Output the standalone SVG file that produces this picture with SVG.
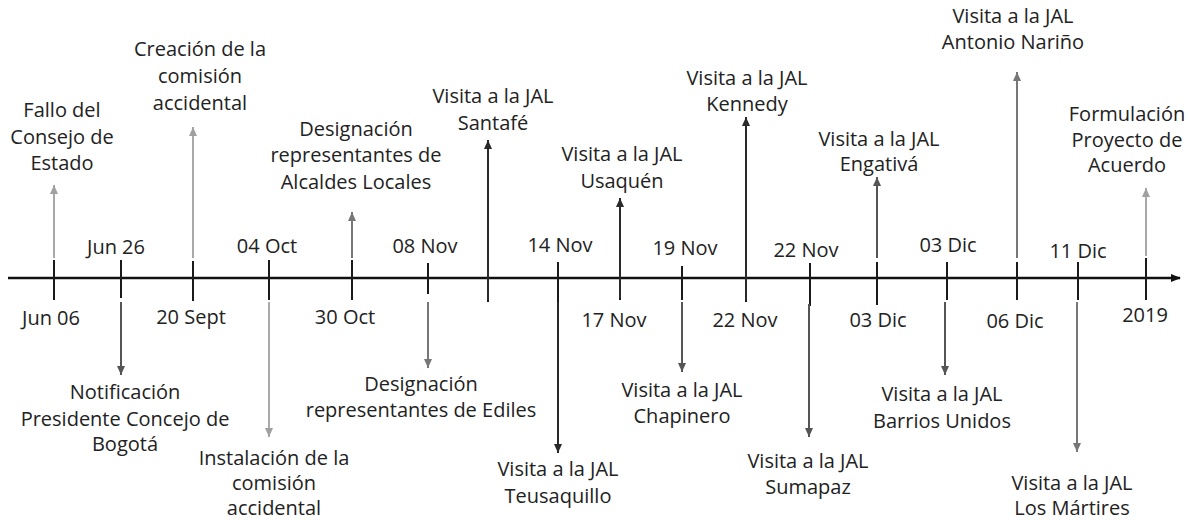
<svg xmlns="http://www.w3.org/2000/svg" width="1188" height="520" viewBox="0 0 1188 520">
<style>
text{font-family:"Open Sans","Noto Sans","DejaVu Sans",sans-serif;font-size:20px;fill:#222;text-anchor:middle}
.axis{stroke:#111;stroke-width:2.5;fill:none}
.tick{stroke:#1a1a1a;stroke-width:2;fill:none}
.c1{stroke:#2a2a2a;stroke-width:2;fill:none;marker-end:url(#m1)}
.c2{stroke:#555;stroke-width:2;fill:none;marker-end:url(#m2)}
.c3{stroke:#777;stroke-width:2;fill:none;marker-end:url(#m3)}
.c4{stroke:#a0a0a0;stroke-width:1.8;fill:none;marker-end:url(#m4)}
</style>
<defs>
<marker id="m0" viewBox="0 0 10 8" refX="9" refY="4" markerWidth="10" markerHeight="8" markerUnits="userSpaceOnUse" orient="auto"><path d="M0,0 L10,4 L0,8 z" fill="#111"/></marker>
<marker id="m1" viewBox="0 0 9 8" refX="9" refY="4" markerWidth="9" markerHeight="8" markerUnits="userSpaceOnUse" orient="auto"><path d="M0,0 L9,4 L0,8 z" fill="#2a2a2a"/></marker>
<marker id="m2" viewBox="0 0 9 8" refX="9" refY="4" markerWidth="9" markerHeight="8" markerUnits="userSpaceOnUse" orient="auto"><path d="M0,0 L9,4 L0,8 z" fill="#555"/></marker>
<marker id="m3" viewBox="0 0 9 8" refX="9" refY="4" markerWidth="9" markerHeight="8" markerUnits="userSpaceOnUse" orient="auto"><path d="M0,0 L9,4 L0,8 z" fill="#777"/></marker>
<marker id="m4" viewBox="0 0 9 8" refX="9" refY="4" markerWidth="9" markerHeight="8" markerUnits="userSpaceOnUse" orient="auto"><path d="M0,0 L9,4 L0,8 z" fill="#a0a0a0"/></marker>
</defs>
<rect width="1188" height="520" fill="#fff"/>
<g id="timeline">
<line class="axis" x1="8" y1="278" x2="1180" y2="278" marker-end="url(#m0)"/>
<path class="tick" d="M54,260V300 M121,260V298 M193,261V301 M269,260V300 M352,260V300 M428,263V294 M488,262V302 M558,262V302 M620,262V300 M682,266V300 M746,262V302 M810,263V306 M877,262V305 M947,262V300 M1017,262V300 M1078,262V300 M1146,258V300"/>
</g>
<g id="connectors">
<line class="c4" x1="54" y1="258" x2="54" y2="185"/>
<line class="c2" x1="121" y1="302" x2="121" y2="375"/>
<line class="c4" x1="193" y1="258" x2="193" y2="127"/>
<line class="c4" x1="269" y1="302" x2="269" y2="437"/>
<line class="c3" x1="352" y1="258" x2="352" y2="212"/>
<line class="c3" x1="428" y1="302" x2="428" y2="368"/>
<line class="c1" x1="488" y1="300" x2="488" y2="140"/>
<line class="c1" x1="558" y1="302" x2="558" y2="453"/>
<line class="c1" x1="620" y1="298" x2="620" y2="198"/>
<line class="c2" x1="682" y1="302" x2="682" y2="372"/>
<line class="c1" x1="746" y1="300" x2="746" y2="117"/>
<line class="c2" x1="809" y1="304" x2="809" y2="437"/>
<line class="c2" x1="877" y1="258" x2="877" y2="177"/>
<line class="c2" x1="945" y1="302" x2="945" y2="375"/>
<line class="c3" x1="1017" y1="258" x2="1017" y2="72"/>
<line class="c3" x1="1077" y1="302" x2="1077" y2="452"/>
<line class="c4" x1="1146" y1="256" x2="1146" y2="188"/>
</g>
<g id="e01"><text x="62" y="117">Fallo del<tspan x="62" y="144">Consejo de</tspan><tspan x="62" y="170">Estado</tspan></text><text x="51" y="325">Jun 06</text></g>
<g id="e02"><text x="125" y="399">Notificación<tspan x="125" y="426">Presidente Concejo de</tspan><tspan x="125" y="451">Bogotá</tspan></text><text x="116" y="254">Jun 26</text></g>
<g id="e03"><text x="200" y="56">Creación de la<tspan x="200" y="83">comisión</tspan><tspan x="200" y="110">accidental</tspan></text><text x="191" y="324">20 Sept</text></g>
<g id="e04"><text x="274" y="465">Instalación de la<tspan x="274" y="490">comisión</tspan><tspan x="274" y="515">accidental</tspan></text><text x="267" y="253">04 Oct</text></g>
<g id="e05"><text x="356" y="136">Designación<tspan x="356" y="162">representantes de</tspan><tspan x="356" y="189">Alcaldes Locales</tspan></text><text x="345" y="324">30 Oct</text></g>
<g id="e06"><text x="421" y="391">Designación<tspan x="421" y="417">representantes de Ediles</tspan></text><text x="425" y="253">08 Nov</text></g>
<g id="e07"><text x="493" y="103">Visita a la JAL<tspan x="493" y="130">Santafé</tspan></text></g>
<g id="e08"><text x="558" y="476">Visita a la JAL<tspan x="558" y="503">Teusaquillo</tspan></text><text x="560" y="252">14 Nov</text></g>
<g id="e09"><text x="622" y="161">Visita a la JAL<tspan x="622" y="188">Usaquén</tspan></text><text x="614" y="327">17 Nov</text></g>
<g id="e10"><text x="682" y="397">Visita a la JAL<tspan x="682" y="423">Chapinero</tspan></text><text x="685" y="255">19 Nov</text></g>
<g id="e11"><text x="747" y="85">Visita a la JAL<tspan x="747" y="111">Kennedy</tspan></text><text x="745" y="327">22 Nov</text></g>
<g id="e12"><text x="808" y="468">Visita a la JAL<tspan x="808" y="494">Sumapaz</tspan></text><text x="806" y="257">22 Nov</text></g>
<g id="e13"><text x="879" y="146">Visita a la JAL<tspan x="879" y="171">Engativá</tspan></text><text x="878" y="327">03 Dic</text></g>
<g id="e14"><text x="942" y="401">Visita a la JAL<tspan x="942" y="428">Barrios Unidos</tspan></text><text x="948" y="252">03 Dic</text></g>
<g id="e15"><text x="1013" y="23">Visita a la JAL<tspan x="1013" y="49">Antonio Nariño</tspan></text><text x="1015" y="328">06 Dic</text></g>
<g id="e16"><text x="1072" y="490">Visita a la JAL<tspan x="1072" y="515">Los Mártires</tspan></text><text x="1078" y="258">11 Dic</text></g>
<g id="e17"><text x="1127" y="121">Formulación<tspan x="1127" y="147">Proyecto de</tspan><tspan x="1127" y="172">Acuerdo</tspan></text><text x="1145" y="322">2019</text></g>
</svg>
